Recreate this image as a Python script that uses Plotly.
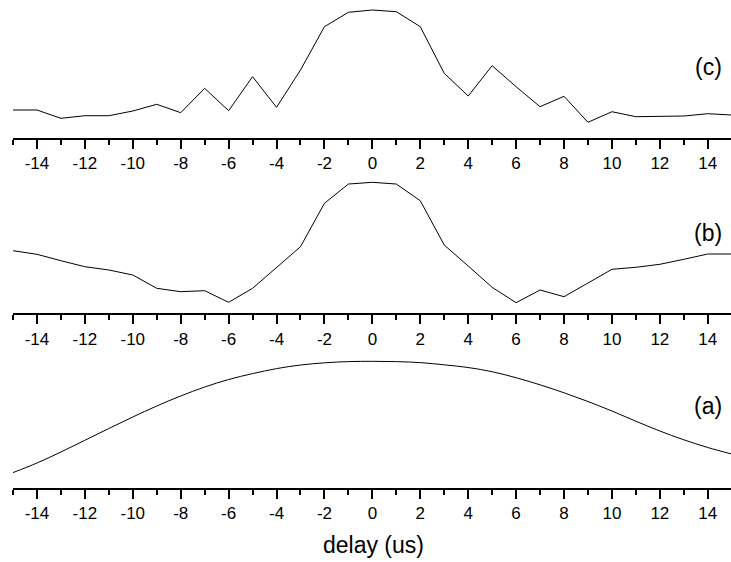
import plotly.graph_objects as go

delay = list(range(-15, 16))

# (c) signal, arbitrary units
sig_c = [0.280, 0.280, 0.197, 0.223, 0.223, 0.270, 0.337, 0.253, 0.497, 0.273,
         0.613, 0.307, 0.680, 1.113, 1.257, 1.280, 1.263, 1.113, 0.647, 0.420,
         0.723, 0.513, 0.313, 0.417, 0.157, 0.263, 0.213, 0.213, 0.220, 0.243, 0.230]

# (b) signal
sig_b = [0.626, 0.590, 0.526, 0.466, 0.433, 0.383, 0.250, 0.216, 0.226, 0.110,
         0.250, 0.460, 0.666, 1.100, 1.293, 1.310, 1.293, 1.126, 0.683, 0.473,
         0.260, 0.106, 0.233, 0.166, 0.300, 0.440, 0.460, 0.490, 0.540, 0.593, 0.593]

# (a) signal (smooth)
sig_a = [0.154, 0.250, 0.360, 0.477, 0.595, 0.710, 0.820, 0.920, 1.010, 1.085,
         1.144, 1.194, 1.230, 1.252, 1.264, 1.267, 1.264, 1.254, 1.232, 1.205,
         1.163, 1.103, 1.032, 0.952, 0.865, 0.770, 0.668, 0.570, 0.482, 0.405, 0.340]

panel_labels = ["(a)", "(b)", "(c)"]
tick_vals = list(range(-14, 15, 2))
tick_text = [str(v) for v in tick_vals]

fig = go.Figure()
fig.add_trace(go.Scatter(x=delay, y=sig_a, mode="lines",
                         line=dict(color="black", width=1, shape="spline", smoothing=1.0),
                         xaxis="x", yaxis="y", showlegend=False))
fig.add_trace(go.Scatter(x=delay, y=sig_b, mode="lines", line=dict(color="black", width=1),
                         xaxis="x2", yaxis="y2", showlegend=False))
fig.add_trace(go.Scatter(x=delay, y=sig_c, mode="lines", line=dict(color="black", width=1),
                         xaxis="x3", yaxis="y3", showlegend=False))

font_family = "Liberation Sans, Arial, sans-serif"

def xaxis_cfg(anchor):
    return dict(
        anchor=anchor, domain=[0, 1], range=[-15, 14.97],
        showline=True, linecolor="black", linewidth=2,
        ticks="outside", ticklen=9, tickwidth=1.5, tickcolor="black",
        tickvals=tick_vals, ticktext=tick_text,
        tickfont=dict(family=font_family, size=17, color="black"),
        showgrid=False, zeroline=False,
        minor=dict(dtick=1, tick0=-15, ticks="outside", ticklen=5, tickwidth=1.5,
                   tickcolor="black", showgrid=False),
    )

def yaxis_cfg(anchor, dom, top):
    return dict(anchor=anchor, domain=dom, range=[0, top], visible=False, fixedrange=True)

fig.update_layout(
    width=731, height=562,
    margin=dict(l=13, r=0, t=0, b=74),
    paper_bgcolor="white", plot_bgcolor="white",
    xaxis=xaxis_cfg("y"),
    xaxis2=xaxis_cfg("y2"),
    xaxis3=xaxis_cfg("y3"),
    yaxis=yaxis_cfg("x", [0, 0.293], 1.43),
    yaxis2=yaxis_cfg("x2", [0.358, 0.6516], 1.433),
    yaxis3=yaxis_cfg("x3", [0.7172, 1.0], 1.38),
    font=dict(family=font_family, color="black"),
)

label_y = [0.168, 0.5225, 0.8627]
for lab, yy in zip(panel_labels, label_y):
    fig.add_annotation(text=lab, x=0.968, y=yy, xref="paper", yref="paper",
                       xanchor="center", yanchor="middle", showarrow=False,
                       font=dict(family=font_family, size=23, color="black"))

fig.add_annotation(text="delay (us)", x=0.5014, y=-0.1168, xref="paper", yref="paper",
                   xanchor="center", yanchor="middle", showarrow=False,
                   font=dict(family=font_family, size=23, color="black"))

fig.write_html("out.html")
